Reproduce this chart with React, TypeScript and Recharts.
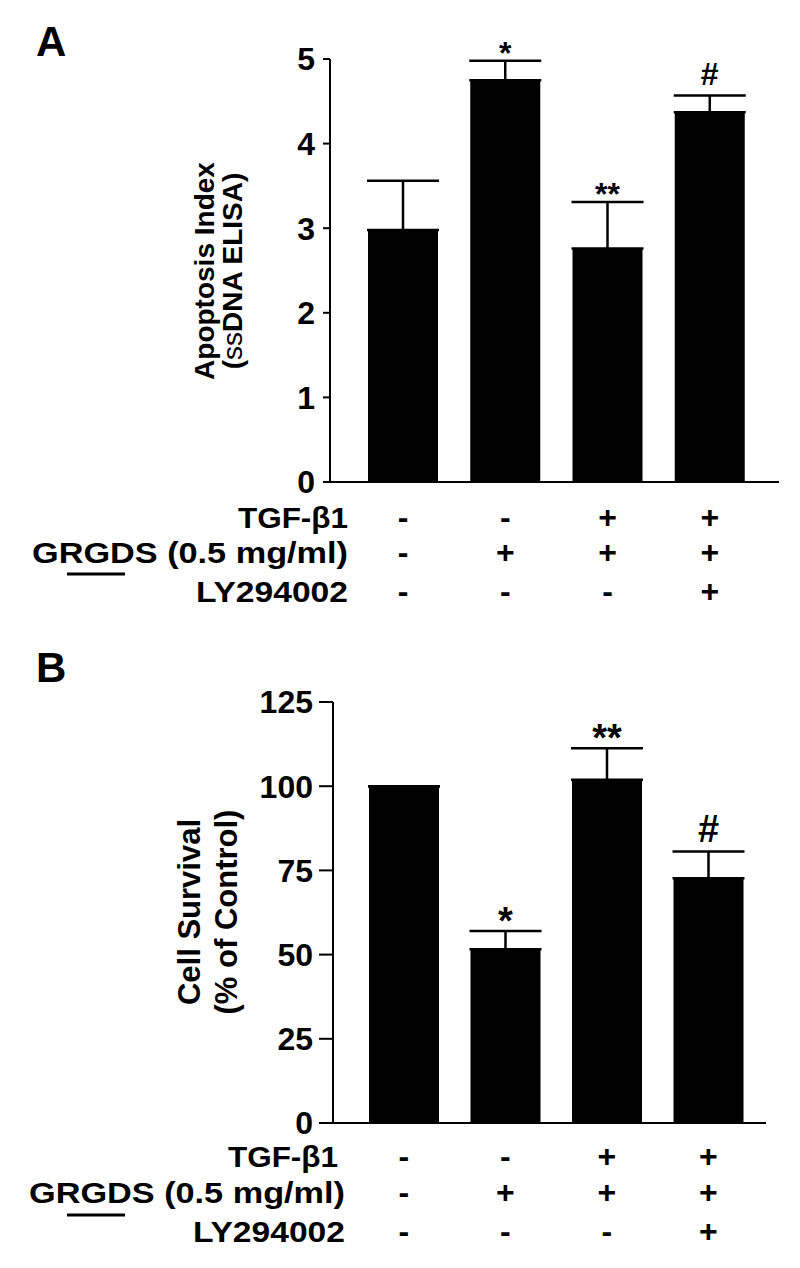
import React from "react";
import { BarChart, Bar, XAxis, YAxis, ErrorBar, LabelList } from "recharts";

// treatment groups, left to right
const groups = ["Control", "GRGDS", "TGF-β1 + GRGDS", "TGF-β1 + GRGDS + LY294002"];

// panel A: apoptosis index (ssDNA ELISA)
const apoptosisIndex = [2.98, 4.75, 2.76, 4.37];
const apoptosisSem = [0.58, 0.23, 0.55, 0.2];
const apoptosisMarks = ["", "*", "**", "#"];
const apoptosisTicks = [0, 1, 2, 3, 4, 5];

// panel B: cell survival (% of control)
const survival = [100, 51.6, 101.9, 72.7];
const survivalSem = [0, 5.4, 9.4, 7.9];
const survivalMarks = ["", "*", "**", "#"];
const survivalTicks = [0, 25, 50, 75, 100, 125];

// treatment table under the bars
const tgfRow = ["-", "-", "+", "+"];
const grgdsRow = ["-", "+", "+", "+"];
const lyRow = ["-", "-", "-", "+"];

const FONT = "'Liberation Sans', Arial, sans-serif";

const buildRows = (vals: number[], sem: number[], marks: string[]) =>
  groups.map((g, i) => ({ group: g, value: vals[i], err: [0, sem[i]], mark: marks[i] }));

const apoptosisData = buildRows(apoptosisIndex, apoptosisSem, apoptosisMarks);
const survivalData = buildRows(survival, survivalSem, survivalMarks);

const markLabel = (vals: number[], sem: number[], size: number) => (props: any) => {
  const vb = props.viewBox || props;
  const { x, y, width, height } = vb;
  const i = props.index;
  const txt = props.value;
  if (!txt) return null;
  const pxPerUnit = height / vals[i];
  const capY = y - sem[i] * pxPerUnit;
  const isHash = String(txt).includes("#");
  return (
    <text
      x={x + width / 2}
      y={isHash ? capY - 10 : capY + 3}
      textAnchor="middle"
      fontFamily={FONT}
      fontWeight="bold"
      fontSize={size}
      fill="#000"
    >
      {txt}
    </text>
  );
};

const tableTick = (offsets: number[], labelRight: number, tgfRight: number) => (props: any) => {
  const { x, y, index } = props;
  const rows = [tgfRow, grgdsRow, lyRow];
  return (
    <g fontFamily={FONT} fontWeight="bold" fill="#000">
      {rows.map((r, k) => (
        <text key={k} x={x} y={y + offsets[k]} textAnchor="middle" fontSize={32}>
          {r[index]}
        </text>
      ))}
      {index === 0 && (
        <g fontSize={29}>
          <text x={tgfRight} y={y + offsets[0]} textAnchor="end"
            textLength={110} lengthAdjust="spacingAndGlyphs">
            TGF-β1
          </text>
          <text x={labelRight} y={y + offsets[1]} textAnchor="end"
            textLength={316} lengthAdjust="spacingAndGlyphs">
            GRGDS (0.5 mg/ml)
          </text>
          <line x1={67} x2={125} y1={y + 92} y2={y + 92} stroke="#000" strokeWidth={3} />
          <text x={labelRight} y={y + offsets[2]} textAnchor="end"
            textLength={152} lengthAdjust="spacingAndGlyphs">
            LY294002
          </text>
        </g>
      )}
    </g>
  );
};

const yTitle = (letter: string, letterY: number, line1: React.ReactNode, line2: React.ReactNode,
  x1: number, x2: number, cy: number, size: number) => () => (
  <g fontFamily={FONT} fontWeight="bold" fill="#000">
    <text x={36} y={letterY} fontSize={42}>{letter}</text>
    <text x={x1} y={cy} fontSize={size} textAnchor="middle" dominantBaseline="central"
      transform={`rotate(-90, ${x1}, ${cy})`}>{line1}</text>
    <text x={x2} y={cy} fontSize={size} textAnchor="middle" dominantBaseline="central"
      transform={`rotate(-90, ${x2}, ${cy})`}>{line2}</text>
  </g>
);

const tickStyle = { fontFamily: FONT, fontWeight: "bold", fontSize: 32, fill: "#000" };

export default function App() {
  return (
    <div style={{ position: "absolute", left: 0, top: 0, width: 800, height: 1268, background: "#fff" }}>
      <div style={{ position: "absolute", left: 0, top: 0 }}>
        <BarChart width={800} height={620} data={apoptosisData}
          margin={{ top: 59, right: 21, bottom: 18, left: 0 }}>
          <XAxis dataKey="group" height={120} tickSize={0} tickMargin={0} tickLine={false}
            axisLine={{ stroke: "#000", strokeWidth: 2 }} padding={{ left: 22, right: 18 }}
            interval={0} tick={tableTick([46, 81, 120], 348, 348)} />
          <YAxis width={330} domain={[0, 5]} ticks={apoptosisTicks} tickSize={7} tickMargin={8}
            axisLine={{ stroke: "#000", strokeWidth: 2 }} tickLine={{ stroke: "#000", strokeWidth: 2 }}
            tick={tickStyle}
            label={{ content: yTitle("A", 56,
              "Apoptosis Index",
              <><tspan>(</tspan><tspan fontWeight="normal">ss</tspan><tspan>DNA ELISA)</tspan></>,
              204, 232, 271, 28) }} />
          <Bar dataKey="value" fill="#000" barSize={70} isAnimationActive={false}>
            <ErrorBar dataKey="err" width={36} stroke="#000" strokeWidth={2.5} isAnimationActive={false} />
            <LabelList dataKey="mark" content={markLabel(apoptosisIndex, apoptosisSem, 32)} />
          </Bar>
        </BarChart>
      </div>
      <div style={{ position: "absolute", left: 0, top: 620 }}>
        <BarChart width={800} height={648} data={survivalData}
          margin={{ top: 82, right: 34, bottom: 25, left: 0 }}>
          <XAxis dataKey="group" height={120} tickSize={0} tickMargin={0} tickLine={false}
            axisLine={{ stroke: "#000", strokeWidth: 2 }} padding={{ left: 20, right: 7 }}
            interval={0} tick={tableTick([44, 80, 119], 345, 338)} />
          <YAxis width={333} domain={[0, 125]} ticks={survivalTicks} tickSize={14} tickMargin={6}
            axisLine={{ stroke: "#000", strokeWidth: 2 }} tickLine={{ stroke: "#000", strokeWidth: 2 }}
            tick={tickStyle}
            label={{ content: yTitle("B", 62, "Cell Survival", "(% of Control)", 189, 226, 292, 31) }} />
          <Bar dataKey="value" fill="#000" barSize={70} isAnimationActive={false}>
            <ErrorBar dataKey="err" width={36} stroke="#000" strokeWidth={2.5} isAnimationActive={false} />
            <LabelList dataKey="mark" content={markLabel(survival, survivalSem, 38)} />
          </Bar>
        </BarChart>
      </div>
    </div>
  );
}
